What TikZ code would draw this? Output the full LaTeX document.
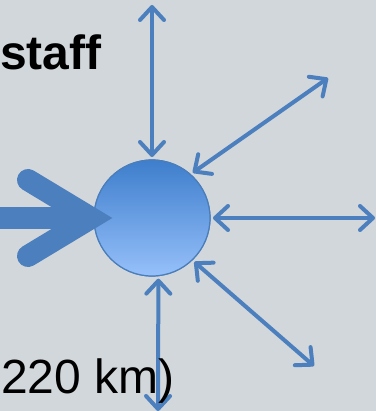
\documentclass[tikz,border=0pt]{standalone}
\usepackage{fontspec}
\setmainfont{Liberation Sans}
\usetikzlibrary{arrows.meta}
\definecolor{backgray}{RGB}{210,215,219}
\definecolor{arrowblue}{RGB}{76,127,189}
\definecolor{hubline}{RGB}{74,126,187}
\definecolor{hubtop}{RGB}{62,126,204}
\definecolor{hubbottom}{RGB}{150,192,250}
\begin{document}
\begin{tikzpicture}[x=1pt, y=-1pt,
    link/.style ={draw=arrowblue, line width=4pt,
      {Straight Barb[length=13pt,width=24pt,round]}-{Straight Barb[length=13pt,width=24pt,round]}},
    hubnode/.style ={circle, draw=hubline, line width=1.2pt, top color=hubtop,
      bottom color=hubbottom, minimum size=116pt, inner sep=0pt, outer sep=3pt},
    bigarrow/.style ={draw=arrowblue, line width=22pt, line cap=round, line join=miter},
    bigtext/.style ={anchor=base west, inner sep=0pt, font=\fontsize{48}{56}\selectfont}]
   \useasboundingbox[fill=backgray] (0,0) rectangle (376,411);

   \node[hubnode] (hub) at (152,218) {};
   \coordinate (top)    at (152,5);
   \coordinate (ne)     at (328,78);
   \coordinate (right)  at (375,218);
   \coordinate (se)     at (314,366);
   \coordinate (bottom) at (158,411);
   \coordinate (src)    at (-10,218);
   \coordinate (armtop) at (28,180);
   \coordinate (armbot) at (28,256);
   \coordinate (chevtip) at (91,218);

   \draw[link] (hub.-84) to (bottom);
   \node[hubnode] at (hub) {};
   \draw[link] (hub.90) to (top);
   \draw[link] (hub.48) to (ne);
   \draw[link] (hub.0) to (right);
   \draw[link] (hub.-46) to (se);

   \draw[bigarrow, line cap=butt] (src) to (hub.west);
   \draw[bigarrow] (armtop) -- (chevtip) -- (armbot);

   \node[bigtext] (staff) at (0,70) {\bfseries staff};
   \node[bigtext] (dist) at (1,393) {220 km)};

 \end{tikzpicture}
\end{document}
